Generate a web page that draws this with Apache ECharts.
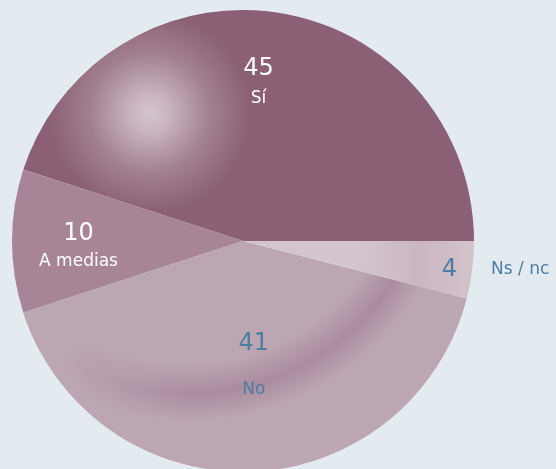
<!DOCTYPE html>
<html>
<head>
<meta charset="utf-8">
<script src="https://cdn.jsdelivr.net/npm/echarts@6/dist/echarts.min.js"></script>
<style>
html,body{margin:0;padding:0;background:#E3EAF0;}
#chart{width:556px;height:469px;}
</style>
</head>
<body>
<div id="chart"></div>
<script>
// Data
var categories = ['Sí', 'A medias', 'No', 'Ns / nc'];
var values = [45, 10, 41, 4];

// Styles (not data)
var sliceColors = [
  {type:'radial', x:150, y:113, r:100, global:true, colorStops:[
    {offset:0, color:'#D4C5CD'}, {offset:0.2, color:'#C8B3BE'}, {offset:0.6, color:'#A2818F'}, {offset:1, color:'#8B6074'}]},
  '#A78596',
  {type:'radial', x:188, y:151, r:300, global:true, colorStops:[
    {offset:0, color:'#BBA6B1'}, {offset:0.71, color:'#BBA6B1'}, {offset:0.81, color:'#AB8C9F'},
    {offset:0.9, color:'#BBA6B1'}, {offset:1, color:'#BBA6B1'}]},
  {type:'linear', x:360, y:0, x2:475, y2:0, global:true, colorStops:[
    {offset:0, color:'#D3C5CD'}, {offset:0.5, color:'#CAB6C1'}, {offset:1, color:'#D3C3CB'}]}
];
// overlay that fades the left end of the darker band in the "No" slice
var overlayColors = [
  'rgba(0,0,0,0)', 'rgba(0,0,0,0)',
  {type:'linear', x:60, y:0, x2:190, y2:0, global:true, colorStops:[
    {offset:0, color:'rgba(187,166,177,1)'}, {offset:1, color:'rgba(187,166,177,0)'}]},
  'rgba(0,0,0,0)'
];
var labelColors = ['#FFFFFF', '#FFFFFF', '#4A7FA3', '#4A7FA3'];
var lineGaps = [30, 28, 46, 30];
var labelShift = [[-3, -40], [-46, 7], [7, 7], [135, 14]];
var FONT = 'DejaVu Sans';

var data = categories.map(function (name, i) {
  var item = {
    name: name,
    value: values[i],
    itemStyle: { color: sliceColors[i] },
    label: {
      rich: {
        v: { fontSize: 24, color: labelColors[i], lineHeight: lineGaps[i], fontFamily: FONT },
        n: { fontSize: 17, color: labelColors[i], lineHeight: lineGaps[i], fontFamily: FONT }
      }
    }
  };
  if (i === 3) {
    item.label.formatter = '{v|{c}}{n|{b}}';
    item.label.rich.n.padding = [0, 0, 0, 34];
  }
  return item;
});

var overlayData = categories.map(function (name, i) {
  return { name: name, value: values[i], itemStyle: { color: overlayColors[i] } };
});

var common = {
  type: 'pie',
  center: [243, 241],
  radius: 231,
  startAngle: 0,
  clockwise: false,
  avoidLabelOverlap: false,
  emphasis: { disabled: true },
  labelLine: { show: false }
};

var chart = echarts.init(document.getElementById('chart'), null, {renderer: 'canvas'});
chart.setOption({
  backgroundColor: '#E3EAF0',
  animation: false,
  series: [
    Object.assign({}, common, {
      itemStyle: { borderWidth: 0 },
      label: { show: false },
      silent: true,
      z: 1,
      data: data.map(function (d) { return { name: d.name, value: d.value, itemStyle: d.itemStyle }; })
    }),
    Object.assign({}, common, {
      itemStyle: { borderWidth: 0 },
      label: { show: false },
      silent: true,
      z: 2,
      data: overlayData
    }),
    Object.assign({}, common, {
      itemStyle: { borderWidth: 0, color: 'rgba(0,0,0,0)' },
      z: 3,
      label: {
        show: true,
        position: 'inside',
        formatter: '{v|{c}}\n{n|{b}}',
        fontFamily: FONT
      },
      labelLayout: function (params) {
        var s = labelShift[params.dataIndex];
        return { dx: s[0], dy: s[1] };
      },
      data: data.map(function (d) {
        return { name: d.name, value: d.value, label: d.label, itemStyle: { color: 'rgba(0,0,0,0)' } };
      })
    })
  ]
});
</script>
</body>
</html>
